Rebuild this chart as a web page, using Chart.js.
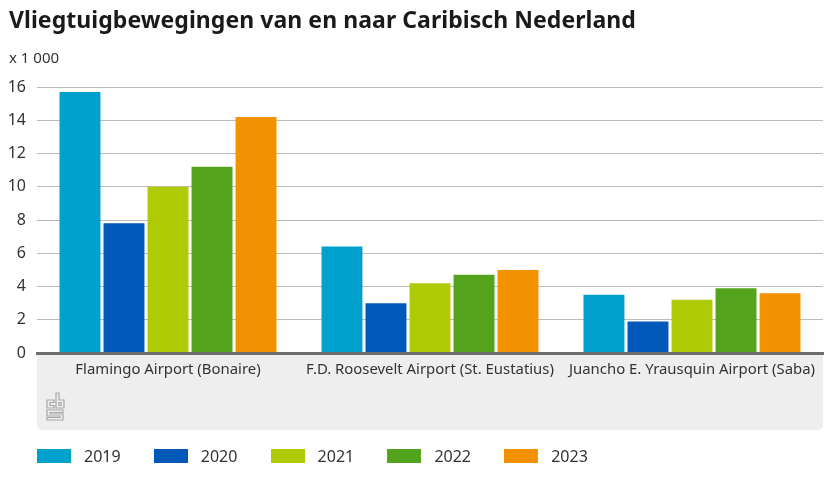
<!DOCTYPE html>
<html>
<head>
<meta charset="utf-8">
<script src="https://cdn.jsdelivr.net/npm/chart.js@4"></script>
<style>
html, body { margin: 0; padding: 0; background: #fff; }
#wrap { position: relative; width: 830px; height: 501px; overflow: hidden; font-family: "Noto Sans", sans-serif; color: #333; }
canvas { position: absolute; left: 0; top: 0; }
#title { position: absolute; left: 9px; top: 3px; font-size: 23px; letter-spacing: 0.06px; font-weight: 700; color: #1a1a1a; white-space: nowrap; }
#unit { position: absolute; left: 9px; top: 47px; font-size: 15px; white-space: nowrap; }
#logo { position: absolute; left: 45px; top: 391px; }
#legend { position: absolute; left: 37px; top: 445px; display: flex; }
#legend div { width: 116.8px; display: flex; align-items: center; font-size: 16px; height: 22px; }
#legend i { width: 34px; height: 14px; margin-right: 13px; display: block; }
</style>
</head>
<body>
<div id="wrap">
  <canvas id="myChart" width="830" height="501"></canvas>
  <div id="title">Vliegtuigbewegingen van en naar Caribisch Nederland</div>
  <div id="unit">x 1 000</div>
  <svg id="logo" width="20" height="31" viewBox="0 0 20 31" fill="none" stroke="#a8a8a8" stroke-width="1.2">
    <path d="M9 9H2V17H9V14.5H5V11.5H9Z"/>
    <path d="M11 17V2H14V9H19V17ZM14 11.5V14.5H16V11.5Z"/>
    <path d="M2 19H18V21.5H5V23H18V29H2V26.5H15V25H2Z"/>
  </svg>
  <div id="legend"></div>
</div>
<script>
var categories = ["Flamingo Airport (Bonaire)", "F.D. Roosevelt Airport (St. Eustatius)", "Juancho E. Yrausquin Airport (Saba)"];
var years = ["2019", "2020", "2021", "2022", "2023"];
var colors = ["#00a1cd", "#0058b8", "#afcb05", "#53a31d", "#f39200"];
var values2019 = [15.7, 6.4, 3.5];
var values2020 = [7.8, 3.0, 1.9];
var values2021 = [10.0, 4.2, 3.2];
var values2022 = [11.2, 4.7, 3.9];
var values2023 = [14.2, 5.0, 3.6];
var seriesValues = [values2019, values2020, values2021, values2022, values2023];

var textFont = { family: '"Noto Sans", sans-serif', size: 14.9 };

// grey band behind the category labels
var panel = {
  id: 'panel',
  beforeDraw: function (chart) {
    var a = chart.chartArea, c = chart.ctx;
    c.save();
    c.fillStyle = '#eeeeee';
    c.beginPath();
    c.roundRect(a.left, a.bottom, a.right - a.left, 77, [0, 0, 5, 5]);
    c.fill();
    c.restore();
  }
};

var ctx = document.getElementById("myChart").getContext('2d');
var myChart = new Chart(ctx, {
  type: 'bar',
  plugins: [panel],
  data: {
    labels: categories,
    datasets: years.map(function (y, i) {
      return {
        label: y,
        data: seriesValues[i],
        backgroundColor: colors[i],
        categoryPercentage: 0.84,
        barPercentage: 0.93
      };
    })
  },
  options: {
    responsive: false,
    animation: false,
    layout: { padding: { top: 87, right: 7, bottom: 70, left: 0 } },
    plugins: { legend: { display: false }, title: { display: false }, tooltip: { enabled: false } },
    scales: {
      x: {
        afterFit: function (s) { s.height = 78; },
        grid: { display: false },
        border: { color: '#6e6e6e', width: 3, z: 1 },
        ticks: { color: '#333', font: textFont, padding: 0, maxRotation: 0, autoSkip: false }
      },
      y: {
        min: 0,
        max: 16,
        afterFit: function (s) { s.width = 37; },
        grid: { color: '#bbbbbb', lineWidth: 1, drawTicks: false },
        border: { display: false },
        ticks: { stepSize: 2, color: '#333', font: { family: textFont.family, size: 16 }, padding: 11 }
      }
    }
  }
});

// legend built from the chart's own datasets
document.getElementById("legend").innerHTML = myChart.data.datasets.map(function (d) {
  return '<div><i style="background:' + d.backgroundColor + '"></i>' + d.label + '</div>';
}).join('');
</script>
</body>
</html>
